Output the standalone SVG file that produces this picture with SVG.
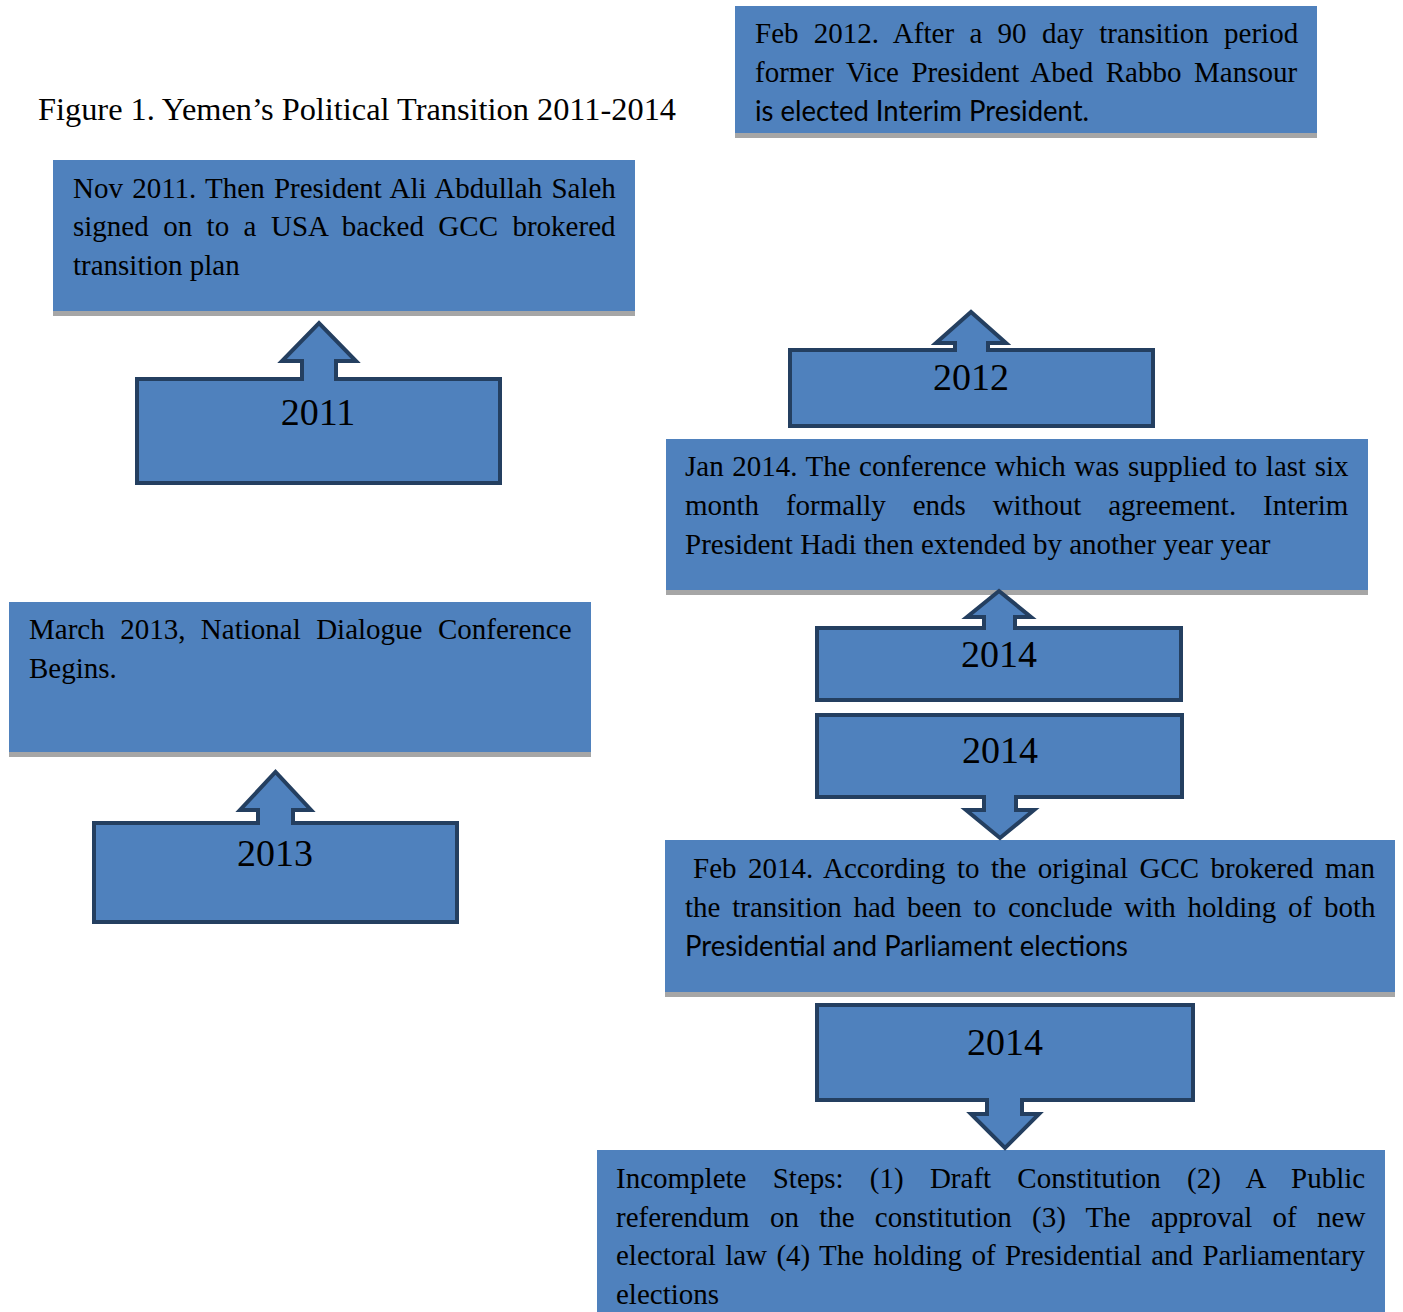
<svg xmlns="http://www.w3.org/2000/svg" width="1403" height="1312" viewBox="0 0 1403 1312">
<style>
.box{fill:#4f81bd}
.bar{fill:#a6a6a6}
.co{fill:#4f81bd;stroke:#243f60;stroke-width:4;stroke-linejoin:miter}
.t{font-family:"Liberation Serif",serif;font-size:29px;fill:#000}
.s{font-family:Lato,"Liberation Sans",sans-serif;font-size:28px;fill:#000}
.y{font-family:"Liberation Serif",serif;font-size:38px;fill:#000;text-anchor:middle}
.title{font-family:"Liberation Serif",serif;font-size:32px;fill:#000}
</style>
<rect width="1403" height="1312" fill="#fff"/>
<text class="title" x="38" y="120" textLength="638" lengthAdjust="spacingAndGlyphs">Figure 1. Yemen’s Political Transition 2011-2014</text>

<g id="box-feb2012">
<rect class="box" x="735" y="6" width="582" height="127"/>
<rect class="bar" x="735" y="133" width="582" height="5"/>
<text class="t" x="755" y="43" word-spacing="8.1">Feb 2012. After a 90 day transition period</text>
<text class="t" x="755" y="82" word-spacing="5.3">former Vice President Abed Rabbo Mansour</text>
<text class="s" x="755" y="121" textLength="334" lengthAdjust="spacingAndGlyphs">is elected Interim President.</text>
</g>

<g id="box-nov2011">
<rect class="box" x="53" y="160" width="582" height="151"/>
<rect class="bar" x="53" y="311" width="582" height="5"/>
<text class="t" x="73" y="198" word-spacing="2">Nov 2011. Then President Ali Abdullah Saleh</text>
<text class="t" x="73" y="236" word-spacing="7.2">signed on to a USA backed GCC brokered</text>
<text class="t" x="73" y="275">transition plan</text>
</g>

<g id="box-mar2013">
<rect class="box" x="9" y="602" width="582" height="150"/>
<rect class="bar" x="9" y="752" width="582" height="5"/>
<text class="t" x="29" y="639" word-spacing="8.2">March 2013, National Dialogue Conference</text>
<text class="t" x="29" y="678">Begins.</text>
</g>

<g id="box-jan2014">
<rect class="box" x="666" y="439" width="702" height="151"/>
<rect class="bar" x="666" y="590" width="702" height="5"/>
<text class="t" x="685" y="476" word-spacing="1.3">Jan 2014. The conference which was supplied to last six</text>
<text class="t" x="685" y="515" word-spacing="19.6">month formally ends without agreement. Interim</text>
<text class="t" x="685" y="554">President Hadi then extended by another year year</text>
</g>

<g id="box-feb2014">
<rect class="box" x="665" y="840" width="730" height="152"/>
<rect class="bar" x="665" y="992" width="730" height="5"/>
<text class="t" x="693" y="878" word-spacing="4.2">Feb 2014. According to the original GCC brokered man</text>
<text class="t" x="685" y="917" word-spacing="4.5">the transition had been to conclude with holding of both</text>
<text class="s" x="685" y="956" textLength="443" lengthAdjust="spacingAndGlyphs">Presidential and Parliament elections</text>
</g>

<g id="box-incomplete">
<rect class="box" x="597" y="1150" width="788" height="162"/>
<text class="t" x="616" y="1188" word-spacing="19">Incomplete Steps: (1) Draft Constitution (2) A Public</text>
<text class="t" x="616" y="1227" word-spacing="13">referendum on the constitution (3) The approval of new</text>
<text class="t" x="616" y="1265" word-spacing="2.1">electoral law (4) The holding of Presidential and Parliamentary</text>
<text class="t" x="616" y="1304">elections</text>
</g>

<g id="connectors"></g>

<g id="callout-2011">
<path class="co" d="M137,379 H302 V361 H282 L319,323 L356,361 H336 V379 H500 V483 H137 Z"/>
<text class="y" x="318" y="425">2011</text>
</g>

<g id="callout-2012">
<path class="co" d="M790,350 H955 V343 H936 L971,312 L1006,343 H988 V350 H1153 V426 H790 Z"/>
<text class="y" x="971" y="390">2012</text>
</g>

<g id="callout-2013">
<path class="co" d="M94,823 H258 V810 H240 L275.5,772 L311,810 H293 V823 H457 V922 H94 Z"/>
<text class="y" x="275" y="866">2013</text>
</g>

<g id="callout-2014a">
<path class="co" d="M817,628 H984 V617 H967 L999,591 L1031,617 H1015 V628 H1181 V700 H817 Z"/>
<text class="y" x="999" y="667">2014</text>
</g>

<g id="callout-2014b">
<path class="co" d="M817,715 H1182 V797 H1016 V810 H1034 L1000,838 L966,810 H984 V797 H817 Z"/>
<text class="y" x="1000" y="763">2014</text>
</g>

<g id="callout-2014c">
<path class="co" d="M817,1005 H1193 V1100 H1022 V1114 H1039 L1005,1148 L971,1114 H987 V1100 H817 Z"/>
<text class="y" x="1005" y="1055">2014</text>
</g>
</svg>
